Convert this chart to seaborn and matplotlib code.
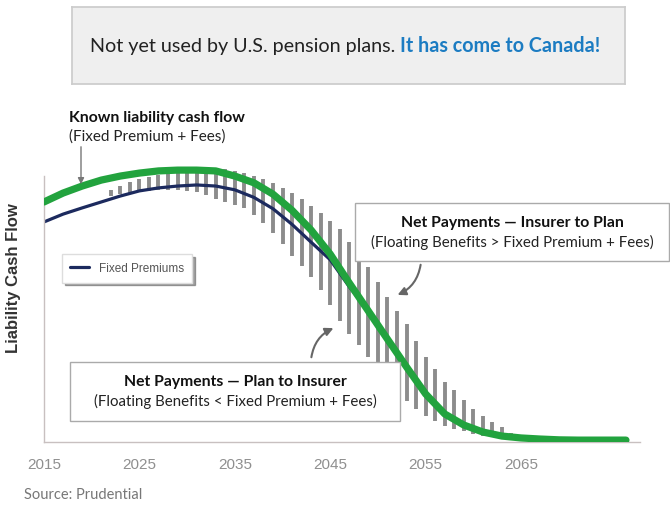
import numpy as np
import pandas as pd
import matplotlib
matplotlib.use("Agg")
import matplotlib.pyplot as plt
from matplotlib.patches import Rectangle, FancyArrowPatch
import seaborn as sns

# curve years and values (index, peak ~100)
curve_years = [2015, 2017, 2019, 2021, 2023, 2025, 2027, 2029, 2031, 2033, 2035,
               2037, 2039, 2041, 2043, 2045, 2047, 2049, 2051, 2053, 2055, 2057,
               2059, 2061, 2063, 2065, 2067, 2069, 2071, 2073, 2076]
known_liability = [88.9, 92.2, 94.8, 97.0, 98.5, 99.6, 100.4, 100.7, 100.7, 100.4, 98.5,
                   96.0, 91.8, 85.8, 78.5, 69.6, 58.9, 48.5, 38.1, 27.8, 17.8, 10.4,
                   6.3, 3.7, 2.2, 1.5, 1.1, 0.8, 0.7, 0.7, 0.7]
fixed_premiums = [81.5, 84.4, 86.7, 88.9, 91.1, 93.0, 94.1, 94.8, 95.2, 94.8, 93.4,
                  90.6, 86.4, 80.6, 74.0, 67.5, 57.5, 48.5, 38.1, 27.8, 17.8, 10.4,
                  6.3, 3.7, 2.2, 1.5, 1.1, 0.8, 0.7, 0.7, 0.7]

# floating benefit ranges, one bar per year
bar_years = list(range(2022, 2065))
bar_high = [93.3, 94.8, 96.3, 97.4, 98.1, 98.9, 100.0, 100.4, 101.1, 101.5, 101.9,
            101.5, 101.1, 100.4, 99.6, 98.5, 97.4, 95.9, 94.1, 92.2, 90.0, 87.4,
            84.8, 81.9, 78.9, 74.1, 68.5, 64.8, 59.3, 53.7, 48.5, 43.7, 37.4,
            31.5, 27.0, 22.2, 19.3, 15.6, 12.2, 9.6, 7.4, 5.6, 3.3]
bar_low = [91.1, 91.9, 92.2, 92.6, 93.0, 93.3, 93.3, 93.3, 93.0, 92.6, 91.5,
           90.0, 88.9, 87.8, 86.7, 84.1, 81.1, 77.4, 73.3, 68.9, 65.2, 61.1,
           56.3, 50.7, 44.8, 40.0, 35.9, 31.5, 27.0, 22.6, 17.8, 15.2, 12.2,
           9.6, 7.8, 5.9, 4.8, 4.1, 3.0, 2.2, 1.9, 1.1, 0.7]

x_ticks = [2015, 2025, 2035, 2045, 2055, 2065]

sns.set_theme(style="white")
plt.rcParams["font.family"] = ["Liberation Sans", "DejaVu Sans"]

W, H = 670, 506
fig = plt.figure(figsize=(W / 100, H / 100), dpi=100)


def fx(x):
    return x / W


def fy(y):
    return 1 - y / H


# main axes: left spine at px 44, baseline at px 443
ax = fig.add_axes([fx(44), fy(443), fx(640) - fx(44), fy(120) - fy(443)])
ax.set_xlim(2015, 2015 + (640 - 44) / 9.54)
ax.set_ylim(0, (443 - 120) / 2.7)

ax.vlines(bar_years, bar_low, bar_high, colors="#8c8c8c", linewidth=2.8, zorder=1)

df = pd.DataFrame({"year": curve_years, "known": known_liability, "fixed": fixed_premiums})
sns.lineplot(data=df, x="year", y="fixed", ax=ax, color="#1c2a5e", linewidth=2.3,
             label="Fixed Premiums", zorder=2, solid_joinstyle="round")
sns.lineplot(data=df, x="year", y="known", ax=ax, color="#22a33e", linewidth=5.2,
             label="_nolegend_", zorder=3, solid_capstyle="round", solid_joinstyle="round")

ax.set_xticks(x_ticks)
ax.set_xticklabels([str(t) for t in x_ticks], color="#8f8f8f", fontsize=11)
ax.set_yticks([])
ax.set_xlabel("")
ax.set_ylabel("")
for s in ["top", "right"]:
    ax.spines[s].set_visible(False)
ax.spines["left"].set_bounds(0, (443 - 177) / 2.7)
ax.spines["left"].set_color("#c8c0c0")
ax.spines["bottom"].set_color("#c8c0c0")
ax.spines["left"].set_linewidth(1)
ax.spines["bottom"].set_linewidth(1)
ax.tick_params(axis="x", direction="inout", length=8, color="#c8c0c0", pad=7)

leg = ax.legend(loc="upper left", bbox_to_anchor=(fx(62), fy(255)),
                bbox_transform=fig.transFigure, frameon=True, fancybox=False,
                shadow=True, fontsize=8.5, handlelength=1.6, borderpad=0.7,
                borderaxespad=0)
leg.get_frame().set_edgecolor("#dddddd")
for t in leg.get_texts():
    t.set_color("#555555")

fig.text(fx(14), fy(278), "Liability Cash Flow", rotation=90, fontsize=12,
         fontweight="bold", color="#333333", ha="center", va="center")

# top banner
bax = fig.add_axes([fx(72), fy(85), fx(625) - fx(72), fy(8) - fy(85)])
bax.set_xticks([])
bax.set_yticks([])
bax.set_facecolor("#efefef")
for s in bax.spines.values():
    s.set_color("#cccccc")
t1 = bax.text((90 - 72) / (625 - 72), 0.5, "Not yet used by U.S. pension plans. ",
              fontsize=14.2, family="Lato", color="#222222", va="center", ha="left")
bax.annotate("It has come to Canada!", xy=(1, 0.5), xycoords=t1, va="center", ha="left",
             fontsize=14.2, family="Lato", fontweight="bold", color="#1c7cc2")

ann_font = "Lato"
fig.text(fx(69), fy(118), "Known liability cash flow", fontsize=11.3, fontweight="bold",
         family=ann_font, color="#111111", va="center")
fig.text(fx(69), fy(137), "(Fixed Premium + Fees)", fontsize=11,
         family=ann_font, color="#222222", va="center")
fig.add_artist(FancyArrowPatch(
    (fx(81), fy(145)), (fx(81), fy(188)), transform=fig.transFigure,
    arrowstyle="-|>", mutation_scale=9, color="#777777", lw=1))


def note_box(x0, y0, x1, y1, title, sub):
    fig.add_artist(Rectangle((fx(x0), fy(y1)), fx(x1) - fx(x0), fy(y0) - fy(y1),
                             transform=fig.transFigure, facecolor="white",
                             edgecolor="#aaaaaa", linewidth=1, zorder=5))
    cx = (x0 + x1) / 2
    fig.text(fx(cx), fy(y0 + (y1 - y0) * 0.33), title, fontsize=11.3, fontweight="bold",
             family=ann_font, color="#111111", ha="center", va="center", zorder=6)
    fig.text(fx(cx), fy(y0 + (y1 - y0) * 0.66), sub, fontsize=10.8,
             family=ann_font, color="#222222", ha="center", va="center", zorder=6)


note_box(355, 204, 669, 262, "Net Payments \u2014 Insurer to Plan",
         "(Floating Benefits > Fixed Premium + Fees)")
note_box(70, 363, 400, 422, "Net Payments \u2014 Plan to Insurer",
         "(Floating Benefits < Fixed Premium + Fees)")

fig.add_artist(FancyArrowPatch(
    (fx(421), fy(263)), (fx(395), fy(297)), transform=fig.transFigure,
    connectionstyle="arc3,rad=-0.3", arrowstyle="-|>", mutation_scale=12,
    color="#666666", lw=1.5))
fig.add_artist(FancyArrowPatch(
    (fx(311), fy(361)), (fx(336), fy(328)), transform=fig.transFigure,
    connectionstyle="arc3,rad=-0.3", arrowstyle="-|>", mutation_scale=12,
    color="#666666", lw=1.5))

fig.text(fx(24), fy(495), "Source: Prudential", fontsize=10.5, family=ann_font,
         color="#777777", va="center")

fig.savefig("out.png", dpi=100)
